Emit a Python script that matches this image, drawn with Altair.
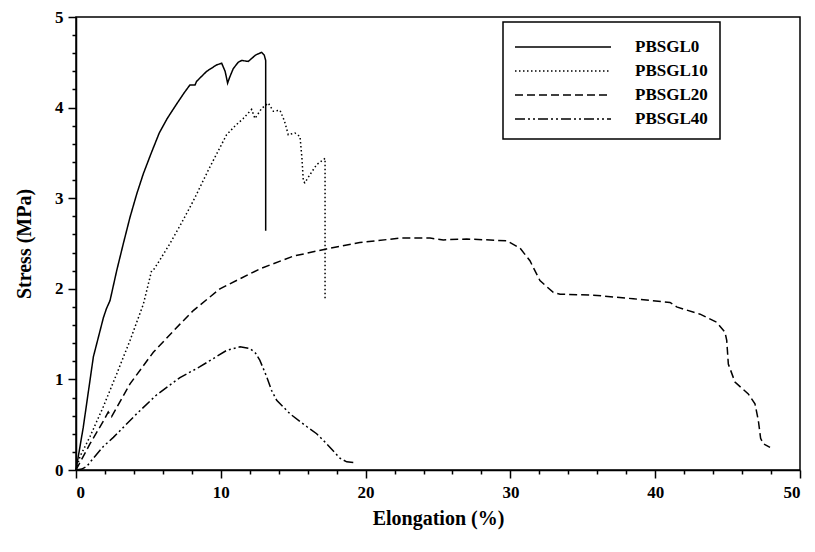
import altair as alt
import pandas as pd

# ---- data ----
series_names = ["PBSGL0", "PBSGL10", "PBSGL20", "PBSGL40"]

pbsgl0_x = [0, 0.5, 1.2, 1.89, 2.1, 2.35, 2.81, 3.27, 3.73, 4.2, 4.65, 5.2, 5.75, 6.3, 6.95, 7.5, 7.87,
            8.22, 8.33, 9.02, 9.7, 10.06, 10.3, 10.47, 10.6, 10.86, 11.2, 11.44, 11.9, 12.4, 12.82,
            13.0, 13.1, 13.1]
pbsgl0_y = [0, 0.47, 1.25, 1.68, 1.78, 1.87, 2.2, 2.5, 2.79, 3.05, 3.27, 3.5, 3.72, 3.88, 4.04, 4.17, 4.25,
            4.25, 4.29, 4.40, 4.47, 4.49, 4.40, 4.27, 4.33, 4.43, 4.50, 4.52, 4.51, 4.58, 4.61,
            4.58, 4.52, 2.64]

pbsgl10_x = [0, 0.28, 0.97, 1.89, 2.81, 3.73, 4.65, 5.1, 5.22, 5.4, 5.8, 6.49, 7.3, 8.1, 9.2, 10.4,
             11.0, 11.55, 12.13, 12.36, 12.82, 13.28, 13.63, 14.09, 14.4, 14.66, 15.12, 15.47, 15.6,
             15.7, 15.8, 16.2, 16.62, 17.2, 17.2]
pbsgl10_y = [0, 0.15, 0.37, 0.70, 1.06, 1.43, 1.83, 2.12, 2.20, 2.22, 2.32, 2.50, 2.73, 2.97, 3.33, 3.70,
             3.80, 3.88, 3.98, 3.88, 3.99, 4.05, 3.96, 3.97, 3.85, 3.70, 3.72, 3.68, 3.45,
             3.19, 3.17, 3.27, 3.37, 3.44, 1.89]

pbsgl20_x = [0, 0.97, 1.89, 2.23, 2.46, 3.73, 5.34, 7.18, 8.1, 9.94, 12.7, 15.0, 17.3, 19.6, 22.4,
             24.45, 25.37, 26.98, 29.74, 30.66, 31.35, 32.04, 32.96, 33.43, 35.73, 38.49, 41.02,
             41.48, 43.1, 44.25, 44.82, 44.94, 45.05, 45.51, 46.43, 46.89, 47.12, 47.28, 47.47, 47.93]
pbsgl20_y = [0, 0.29, 0.54, 0.64, 0.59, 0.95, 1.30, 1.61, 1.76, 2.0, 2.22, 2.36, 2.44, 2.51, 2.56,
             2.56, 2.54, 2.55, 2.53, 2.45, 2.31, 2.09, 1.96, 1.94, 1.93, 1.89, 1.85,
             1.80, 1.72, 1.63, 1.52, 1.43, 1.17, 0.97, 0.84, 0.73, 0.55, 0.35, 0.29, 0.25]

pbsgl40_x = [0, 0.4, 0.74, 1.2, 1.89, 2.58, 4.19, 5.5, 7.18, 8.56, 10.4, 11.33, 12.02, 12.4, 12.7,
             13.17, 13.5, 13.86, 14.78, 15.93, 16.62, 17.31, 18.23, 18.7, 19.27]
pbsgl40_y = [0, 0.01, 0.04, 0.13, 0.26, 0.36, 0.62, 0.82, 1.02, 1.14, 1.32, 1.36, 1.34, 1.29, 1.21,
             1.03, 0.88, 0.77, 0.62, 0.48, 0.40, 0.29, 0.13, 0.09, 0.08]

x_ticks = [i * 2 for i in range(26)]
y_ticks = [round(i * 0.2, 1) for i in range(26)]

rows = []
for name, xs, ys in zip(series_names,
                        [pbsgl0_x, pbsgl10_x, pbsgl20_x, pbsgl40_x],
                        [pbsgl0_y, pbsgl10_y, pbsgl20_y, pbsgl40_y]):
    for i, (x, y) in enumerate(zip(xs, ys)):
        rows.append({"series": name, "x": x, "y": y, "i": i})
df = pd.DataFrame(rows)

FONT = "Liberation Serif"

dash_range = [[1, 0], [1.5, 2.5], [8, 4], [10, 3, 2, 3, 2, 3]]
width_range = [1.5, 1.5, 2.0, 1.5]

chart = alt.Chart(df).mark_line(color="black").encode(
    x=alt.X("x:Q",
            scale=alt.Scale(domain=[0, 50], nice=False, zero=False),
            axis=alt.Axis(values=x_ticks, title="Elongation (%)",
                          tickSize={"condition": {"test": "datum.value % 10 === 0", "value": 8}, "value": 4},
                          labelExpr="datum.value % 10 === 0 ? format(datum.value, 'd') : ''",
                          labelOverlap=False, labelPadding=6, titlePadding=8)),
    y=alt.Y("y:Q",
            scale=alt.Scale(domain=[0, 5], nice=False, zero=False),
            axis=alt.Axis(values=y_ticks, title="Stress (MPa)",
                          tickSize={"condition": {"test": "datum.value % 1 === 0", "value": 8}, "value": 4},
                          labelExpr="datum.value % 1 === 0 ? format(datum.value, 'd') : ''",
                          labelOverlap=False, labelPadding=5, titlePadding=20)),
    strokeDash=alt.StrokeDash("series:N",
                              scale=alt.Scale(domain=series_names, range=dash_range),
                              legend=alt.Legend(title=None, orient="none", legendX=427, legendY=5,
                                                symbolType="M-4,0H4", symbolSize=576,
                                                symbolStrokeColor="black", symbolStrokeWidth=1.5,
                                                symbolFillColor="transparent",
                                                symbolOffset=35, labelOffset=59, padding=12,
                                                rowPadding=3,
                                                labelFont=FONT, labelFontSize=17, labelFontWeight="bold",
                                                labelColor="black",
                                                strokeColor="black", fillColor="white")),
    strokeWidth=alt.StrokeWidth("series:N",
                                scale=alt.Scale(domain=series_names, range=width_range),
                                legend=None),
    detail="series:N",
    order=alt.Order("i:Q"),
).properties(
    width=724, height=453,
    autosize=alt.AutoSizeParams(type="none"),
    padding={"left": 68, "top": 9, "right": 7, "bottom": 75},
).configure_view(
    stroke="black", strokeWidth=1.5
).configure_axis(
    grid=False, domainColor="black", domainWidth=1.5, tickColor="black", tickWidth=1.5,
    labelFont=FONT, labelFontSize=17, labelFontWeight="bold", labelColor="black",
    titleFont=FONT, titleFontSize=20, titleFontWeight="bold", titleColor="black",
).configure_legend(
    strokeWidth=1.5
)

chart.save("out.html", embed_options={"renderer": "svg", "actions": False})
